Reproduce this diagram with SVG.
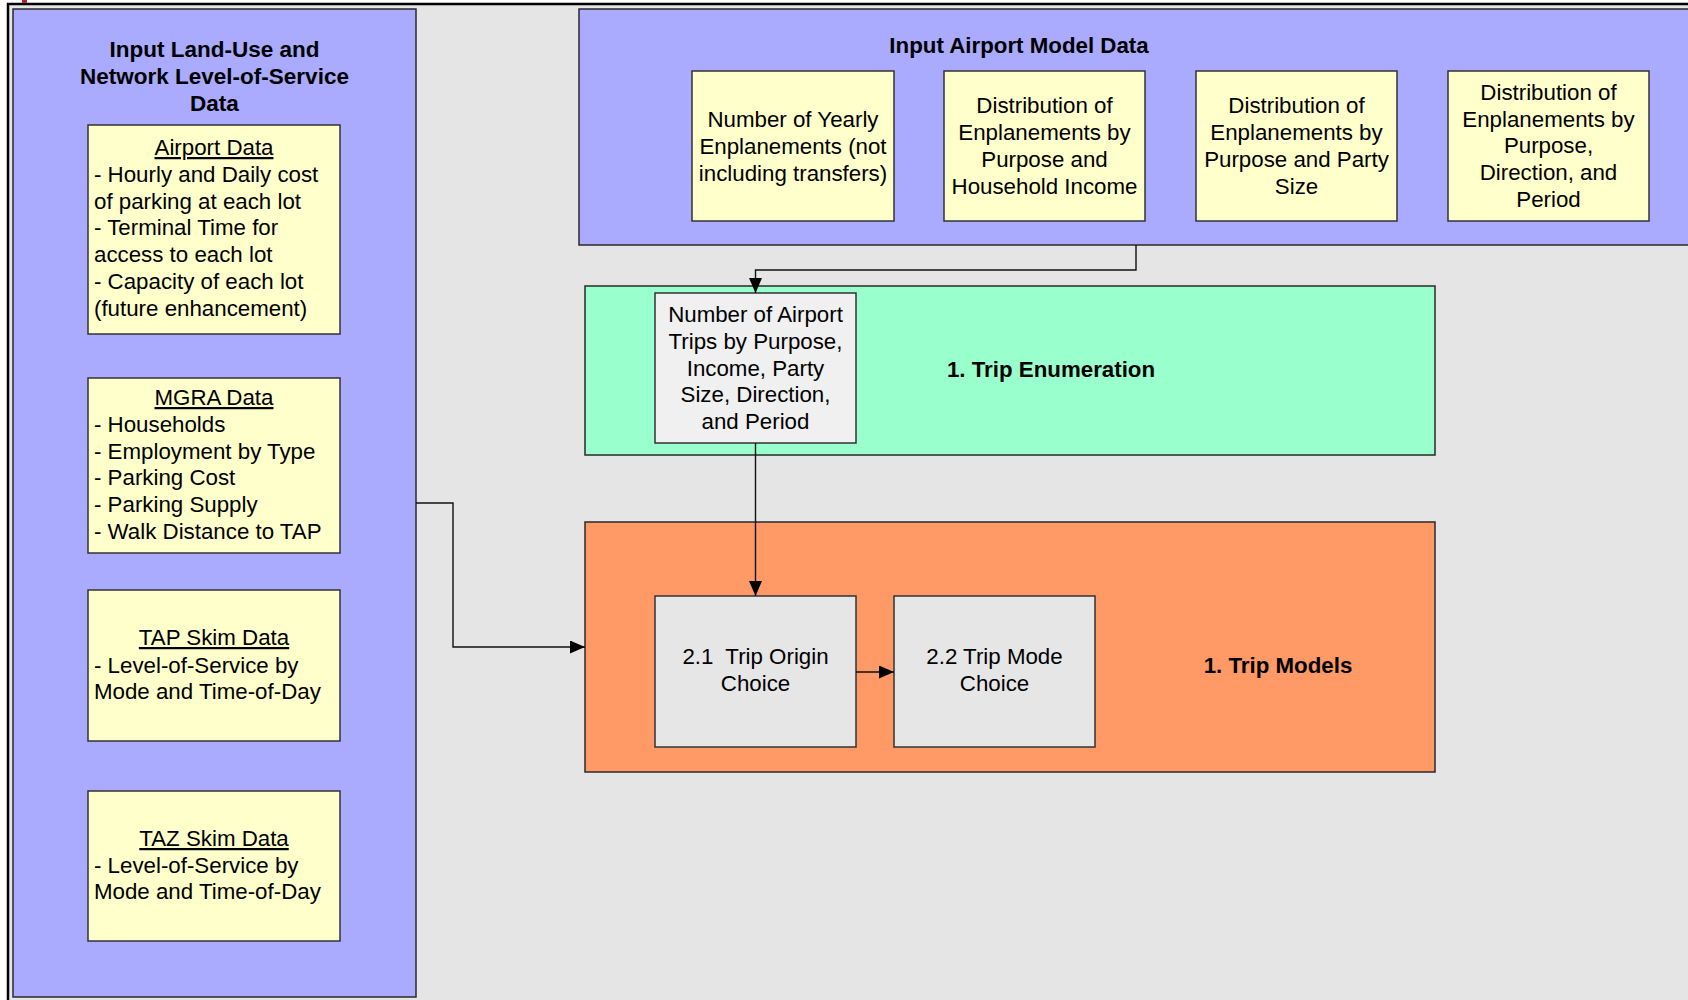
<svg xmlns="http://www.w3.org/2000/svg" width="1688" height="1000" viewBox="0 0 1688 1000">
<style>
.panel{stroke:#2a2a2a;stroke-width:1.5}
.box{stroke:#333;stroke-width:1.5}
.t{font-family:"Liberation Sans",Arial,sans-serif;font-size:22.3px;fill:#000}
.c{text-anchor:middle}
.b{font-weight:bold}
.u{text-decoration:underline}
.conn{fill:none;stroke:#111;stroke-width:1.4}
</style>
<defs>
<marker id="arr" viewBox="0 0 10 10" refX="10" refY="5" markerWidth="15" markerHeight="13" markerUnits="userSpaceOnUse" orient="auto" preserveAspectRatio="none">
<path d="M0,0 L10,5 L0,10 z" fill="#000"/>
</marker>
</defs>
<rect x="0" y="0" width="1688" height="1000" fill="#ffffff"/>
<rect x="9" y="5" width="1679" height="995" fill="#e5e5e5"/>
<path d="M8,1000 V4 H1688" fill="none" stroke="#000" stroke-width="2.5"/>
<rect x="22" y="0" width="5" height="3" fill="#a02828"/>

<g id="land-use-panel">
<rect class="panel" x="13" y="9" width="403" height="988" fill="#aaaaff"/>
<text class="t b c" x="214.5" y="57" style="font-size:22.5px">Input Land-Use and</text>
<text class="t b c" x="214.5" y="84" style="font-size:22.5px">Network Level-of-Service</text>
<text class="t b c" x="214.5" y="111" style="font-size:22.5px">Data</text>
</g>

<g id="airport-data">
<rect class="box" x="88" y="125" width="252" height="209" fill="#ffffcc"/>
<text class="t c u" x="214" y="155">Airport Data</text>
<text class="t" x="94" y="182">- Hourly and Daily cost</text>
<text class="t" x="94" y="209">of parking at each lot</text>
<text class="t" x="94" y="235">- Terminal Time for</text>
<text class="t" x="94" y="262">access to each lot</text>
<text class="t" x="94" y="289">- Capacity of each lot</text>
<text class="t" x="94" y="316">(future enhancement)</text>
</g>

<g id="mgra-data">
<rect class="box" x="88" y="378" width="252" height="175" fill="#ffffcc"/>
<text class="t c u" x="214" y="405">MGRA Data</text>
<text class="t" x="94" y="432">- Households</text>
<text class="t" x="94" y="459">- Employment by Type</text>
<text class="t" x="94" y="485">- Parking Cost</text>
<text class="t" x="94" y="512">- Parking Supply</text>
<text class="t" x="94" y="539">- Walk Distance to TAP</text>
</g>

<g id="tap-skim">
<rect class="box" x="88" y="590" width="252" height="151" fill="#ffffcc"/>
<text class="t c u" x="214" y="645">TAP Skim Data</text>
<text class="t" x="94" y="673">- Level-of-Service by</text>
<text class="t" x="94" y="699">Mode and Time-of-Day</text>
</g>

<g id="taz-skim">
<rect class="box" x="88" y="791" width="252" height="150" fill="#ffffcc"/>
<text class="t c u" x="214" y="846">TAZ Skim Data</text>
<text class="t" x="94" y="873">- Level-of-Service by</text>
<text class="t" x="94" y="899">Mode and Time-of-Day</text>
</g>

<g id="airport-model-panel">
<rect class="panel" x="579" y="9" width="1120" height="236" fill="#aaaaff"/>
<text class="t b c" x="1019" y="53">Input Airport Model Data</text>
</g>

<g id="yearly-enplanements">
<rect class="box" x="692" y="71" width="202" height="150" fill="#ffffcc"/>
<text class="t c" x="793" y="126.5">Number of Yearly</text>
<text class="t c" x="793" y="153.5">Enplanements (not</text>
<text class="t c" x="793" y="180.5">including transfers)</text>
</g>

<g id="dist-income">
<rect class="box" x="944" y="71" width="201" height="150" fill="#ffffcc"/>
<text class="t c" x="1044.5" y="113">Distribution of</text>
<text class="t c" x="1044.5" y="140">Enplanements by</text>
<text class="t c" x="1044.5" y="166.5">Purpose and</text>
<text class="t c" x="1044.5" y="193.5">Household Income</text>
</g>

<g id="dist-party">
<rect class="box" x="1196" y="71" width="201" height="150" fill="#ffffcc"/>
<text class="t c" x="1296.5" y="113">Distribution of</text>
<text class="t c" x="1296.5" y="140">Enplanements by</text>
<text class="t c" x="1296.5" y="166.5">Purpose and Party</text>
<text class="t c" x="1296.5" y="193.5">Size</text>
</g>

<g id="dist-direction">
<rect class="box" x="1448" y="71" width="201" height="150" fill="#ffffcc"/>
<text class="t c" x="1548.5" y="99.5">Distribution of</text>
<text class="t c" x="1548.5" y="126.5">Enplanements by</text>
<text class="t c" x="1548.5" y="153">Purpose,</text>
<text class="t c" x="1548.5" y="180">Direction, and</text>
<text class="t c" x="1548.5" y="206.5">Period</text>
</g>

<g id="trip-enumeration">
<rect class="panel" x="585" y="286" width="850" height="169" fill="#99ffcc"/>
<text class="t b c" x="1051" y="377">1. Trip Enumeration</text>
</g>

<g id="airport-trips">
<rect class="box" x="655" y="293" width="201" height="150" fill="#f0f0f0"/>
<text class="t c" x="755.5" y="321.5">Number of Airport</text>
<text class="t c" x="755.5" y="348.5">Trips by Purpose,</text>
<text class="t c" x="755.5" y="375.5">Income, Party</text>
<text class="t c" x="755.5" y="402">Size, Direction,</text>
<text class="t c" x="755.5" y="429">and Period</text>
</g>

<g id="trip-models">
<rect class="panel" x="585" y="522" width="850" height="250" fill="#ff9966"/>
<text class="t b c" x="1278" y="673">1. Trip Models</text>
</g>

<g id="trip-origin-choice">
<rect class="box" x="655" y="596" width="201" height="151" fill="#e6e6e6"/>
<text class="t c" x="755.5" y="664" xml:space="preserve">2.1  Trip Origin</text>
<text class="t c" x="755.5" y="691">Choice</text>
</g>

<g id="trip-mode-choice">
<rect class="box" x="894" y="596" width="201" height="151" fill="#e6e6e6"/>
<text class="t c" x="994.5" y="664">2.2 Trip Mode</text>
<text class="t c" x="994.5" y="691">Choice</text>
</g>

<g id="connectors">
<path class="conn" d="M1136,245 V270 H755.5 V293" marker-end="url(#arr)"/>
<path class="conn" d="M755.5,443 V596" marker-end="url(#arr)"/>
<path class="conn" d="M856,672 H894" marker-end="url(#arr)"/>
<path class="conn" d="M416,503 H453 V647 H585" marker-end="url(#arr)"/>
</g>
</svg>
